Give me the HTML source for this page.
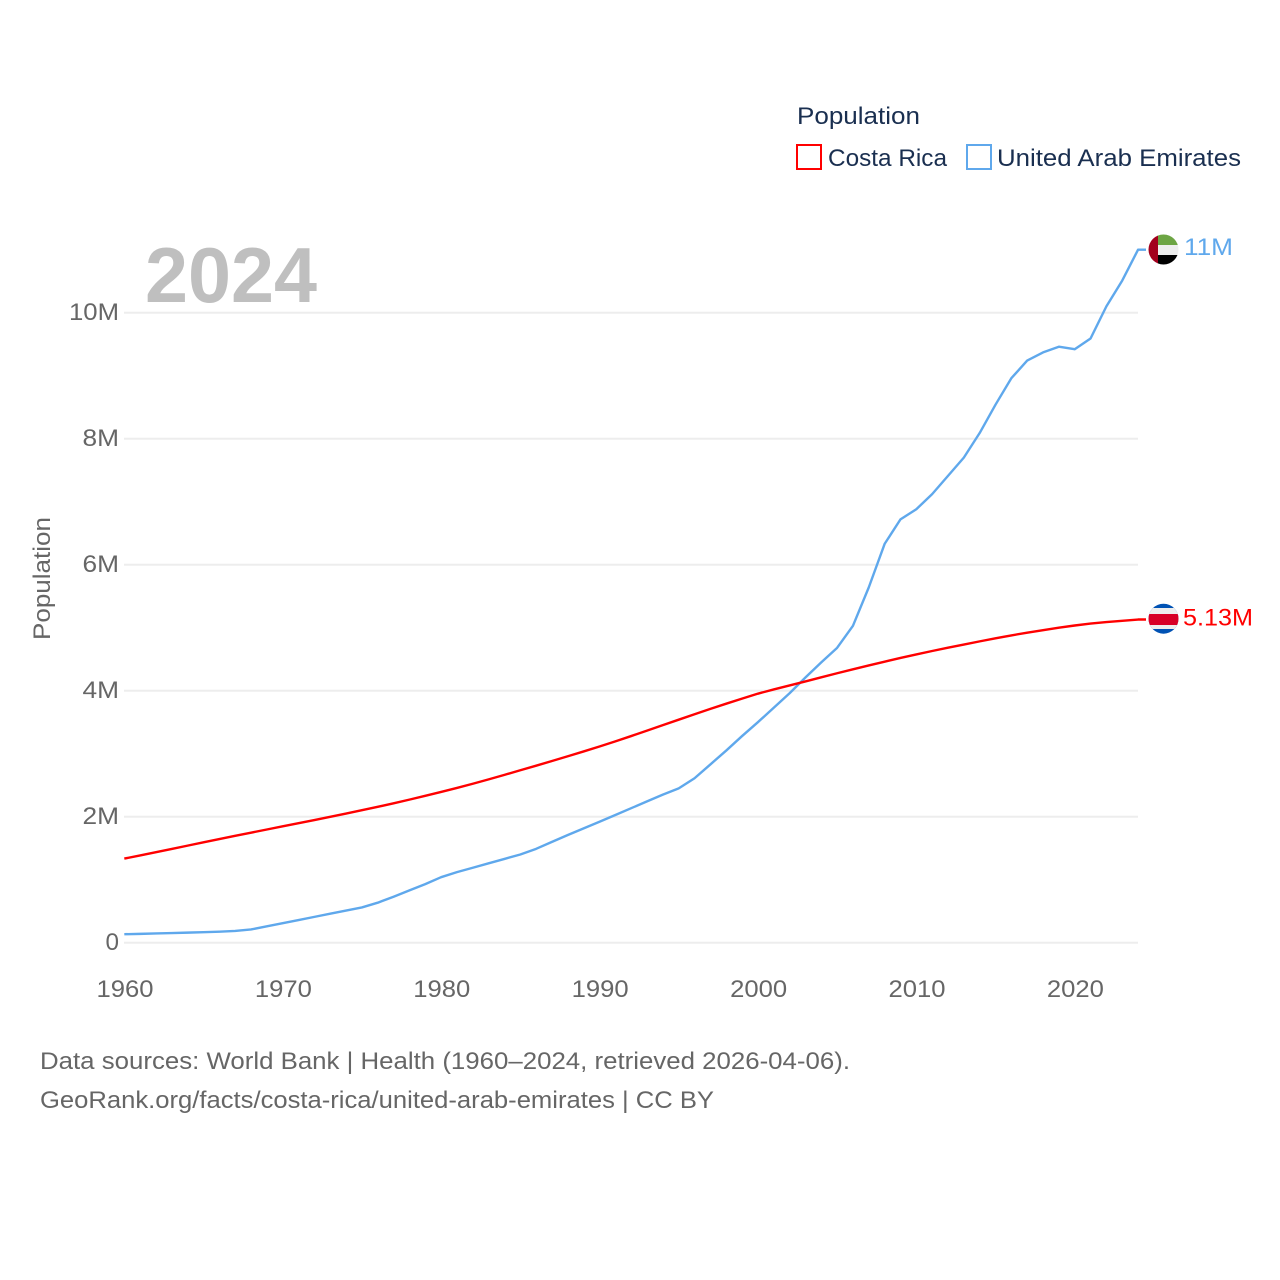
<!DOCTYPE html>
<html lang="en">
<head>
<meta charset="utf-8">
<title>Population: Costa Rica and United Arab Emirates</title>
<style>
html,body{margin:0;padding:0;background:#fff;width:1280px;height:1280px;overflow:hidden}
svg{display:block}
text{font-family:"Liberation Sans",sans-serif;font-size:24px;fill:#666}
</style>
</head>
<body>
<svg id="chart" xmlns="http://www.w3.org/2000/svg" width="1280" height="1280" viewBox="0 0 1280 1280">
  <rect width="1280" height="1280" fill="#fff"/>
  <defs>
    <clipPath id="flag-clip-cr"><circle cx="1163.5" cy="618.7" r="15"/></clipPath>
    <clipPath id="flag-clip-ae"><circle cx="1163.5" cy="249.5" r="15"/></clipPath>
  </defs>
  <g id="grid"></g>
  <g id="yticks"></g>
  <g id="xticks"></g>
  <text x="145" y="302" textLength="172" lengthAdjust="spacingAndGlyphs" style="font-size:78px;font-weight:bold;fill:#bfbfbf">2024</text>
  <text transform="translate(50,640) rotate(-90)" textLength="123" lengthAdjust="spacingAndGlyphs">Population</text>
  <g id="series"></g>
  <g clip-path="url(#flag-clip-ae)">
    <rect x="1158" y="234" width="21" height="11" fill="#6da544"/>
    <rect x="1158" y="245" width="21" height="10" fill="#eeeeee"/>
    <rect x="1158" y="255" width="21" height="11" fill="#000"/>
    <rect x="1148" y="234" width="10" height="32" fill="#a2001d"/>
  </g>
  <g clip-path="url(#flag-clip-cr)">
    <rect x="1148" y="603" width="31" height="32" fill="#0052b4"/>
    <rect x="1148" y="608" width="31" height="21" fill="#eeeeee"/>
    <rect x="1148" y="614" width="31" height="11" fill="#d80027"/>
  </g>
  <text x="1184" y="255" textLength="49" lengthAdjust="spacingAndGlyphs" style="fill:#5fa8ec">11M</text>
  <text x="1183" y="625.5" textLength="70" lengthAdjust="spacingAndGlyphs" style="fill:#ff0000">5.13M</text>
  <g>
    <text x="797" y="124" textLength="123" lengthAdjust="spacingAndGlyphs" style="fill:#1a2f50">Population</text>
    <g>
      <rect x="797" y="145" width="24" height="24" fill="#fff" stroke="#ff0000" stroke-width="2"/>
      <text x="828" y="166" textLength="119" lengthAdjust="spacingAndGlyphs" style="fill:#1a2f50">Costa Rica</text>
    </g>
    <g>
      <rect x="967" y="145" width="24" height="24" fill="#fff" stroke="#5fa8ec" stroke-width="2"/>
      <text x="997" y="166" textLength="244" lengthAdjust="spacingAndGlyphs" style="fill:#1a2f50">United Arab Emirates</text>
    </g>
  </g>
  <text x="40" y="1069" textLength="810" lengthAdjust="spacingAndGlyphs">Data sources: World Bank | Health (1960–2024, retrieved 2026-04-06).</text>
  <text x="40" y="1108" textLength="674" lengthAdjust="spacingAndGlyphs">GeoRank.org/facts/costa-rica/united-arab-emirates | CC BY</text>
</svg>
<script>
const years = [1960,1961,1962,1963,1964,1965,1966,1967,1968,1969,1970,1971,1972,1973,1974,1975,1976,1977,1978,1979,1980,1981,1982,1983,1984,1985,1986,1987,1988,1989,1990,1991,1992,1993,1994,1995,1996,1997,1998,1999,2000,2001,2002,2003,2004,2005,2006,2007,2008,2009,2010,2011,2012,2013,2014,2015,2016,2017,2018,2019,2020,2021,2022,2023,2024];
const costaRica = [1.335,1.385,1.437,1.489,1.541,1.593,1.645,1.696,1.747,1.797,1.847,1.897,1.947,1.998,2.050,2.103,2.157,2.213,2.271,2.331,2.393,2.457,2.523,2.592,2.664,2.737,2.810,2.884,2.959,3.036,3.114,3.196,3.280,3.366,3.453,3.540,3.626,3.711,3.794,3.875,3.953,4.020,4.083,4.147,4.212,4.277,4.340,4.401,4.461,4.520,4.576,4.630,4.682,4.733,4.783,4.832,4.878,4.921,4.961,5.000,5.035,5.065,5.090,5.110,5.130];
const unitedArabEmirates = [0.135,0.14,0.147,0.153,0.16,0.167,0.175,0.186,0.21,0.26,0.31,0.36,0.41,0.46,0.51,0.56,0.635,0.73,0.83,0.93,1.04,1.12,1.19,1.26,1.33,1.40,1.49,1.60,1.71,1.815,1.92,2.027,2.135,2.243,2.35,2.45,2.61,2.83,3.05,3.28,3.50,3.73,3.96,4.21,4.45,4.68,5.03,5.64,6.33,6.72,6.88,7.12,7.41,7.70,8.09,8.54,8.96,9.24,9.37,9.46,9.42,9.59,10.10,10.51,11.00];
const yTickValues = [0,2,4,6,8,10];
const yTickLabels = ['0','2M','4M','6M','8M','10M'];
const xTickValues = [1960,1970,1980,1990,2000,2010,2020];

const NS = 'http://www.w3.org/2000/svg';
function xScale(year){ return 124.3 + (year - 1960) * 15.84; }
function yScale(value){ return 942.7 - value * 63; }

const gridGroup = document.getElementById('grid');
const yGroup = document.getElementById('yticks');
const xGroup = document.getElementById('xticks');
const seriesGroup = document.getElementById('series');

yTickValues.forEach(function(v, i){
  const line = document.createElementNS(NS, 'line');
  
  
  line.setAttribute('x1', 124);
  line.setAttribute('x2', 1138);
  line.setAttribute('y1', yScale(v));
  line.setAttribute('y2', yScale(v));
  line.setAttribute('stroke', '#ededed');
  line.setAttribute('stroke-width', 2);
  gridGroup.appendChild(line);

  const label = document.createElementNS(NS, 'text');
  
  
  label.setAttribute('x', 119);
  label.setAttribute('y', yScale(v) + 7.5);
  label.setAttribute('text-anchor', 'end');
  label.setAttribute('textLength', (yTickLabels[i].length === 3 ? 50 : yTickLabels[i].length === 2 ? 36.5 : 13.5));
  label.setAttribute('lengthAdjust', 'spacingAndGlyphs');
  label.textContent = yTickLabels[i];
  yGroup.appendChild(label);
});

xTickValues.forEach(function(year){
  const label = document.createElementNS(NS, 'text');
  
  
  label.setAttribute('x', xScale(year) + 0.7);
  label.setAttribute('y', 997);
  label.setAttribute('text-anchor', 'middle');
  label.setAttribute('textLength', 57);
  label.setAttribute('lengthAdjust', 'spacingAndGlyphs');
  label.textContent = String(year);
  xGroup.appendChild(label);
});

function pathFor(values, endX){
  let d = '';
  values.forEach(function(v, i){
    d += (i ? 'L' : 'M') + xScale(years[i]).toFixed(2) + ' ' + yScale(v).toFixed(2);
  });
  d += 'L' + endX + ' ' + yScale(values[values.length - 1]).toFixed(2);
  return d;
}

const uaeLine = document.createElementNS(NS, 'path');


uaeLine.setAttribute('d', pathFor(unitedArabEmirates, 1146));
uaeLine.setAttribute('fill', 'none');
uaeLine.setAttribute('stroke', '#5fa8ec');
uaeLine.setAttribute('stroke-width', 2.4);
uaeLine.setAttribute('stroke-linejoin', 'round');
seriesGroup.appendChild(uaeLine);

const crLine = document.createElementNS(NS, 'path');


crLine.setAttribute('d', pathFor(costaRica, 1146));
crLine.setAttribute('fill', 'none');
crLine.setAttribute('stroke', '#ff0000');
crLine.setAttribute('stroke-width', 2.4);
crLine.setAttribute('stroke-linejoin', 'round');
seriesGroup.appendChild(crLine);
</script>
</body>
</html>
